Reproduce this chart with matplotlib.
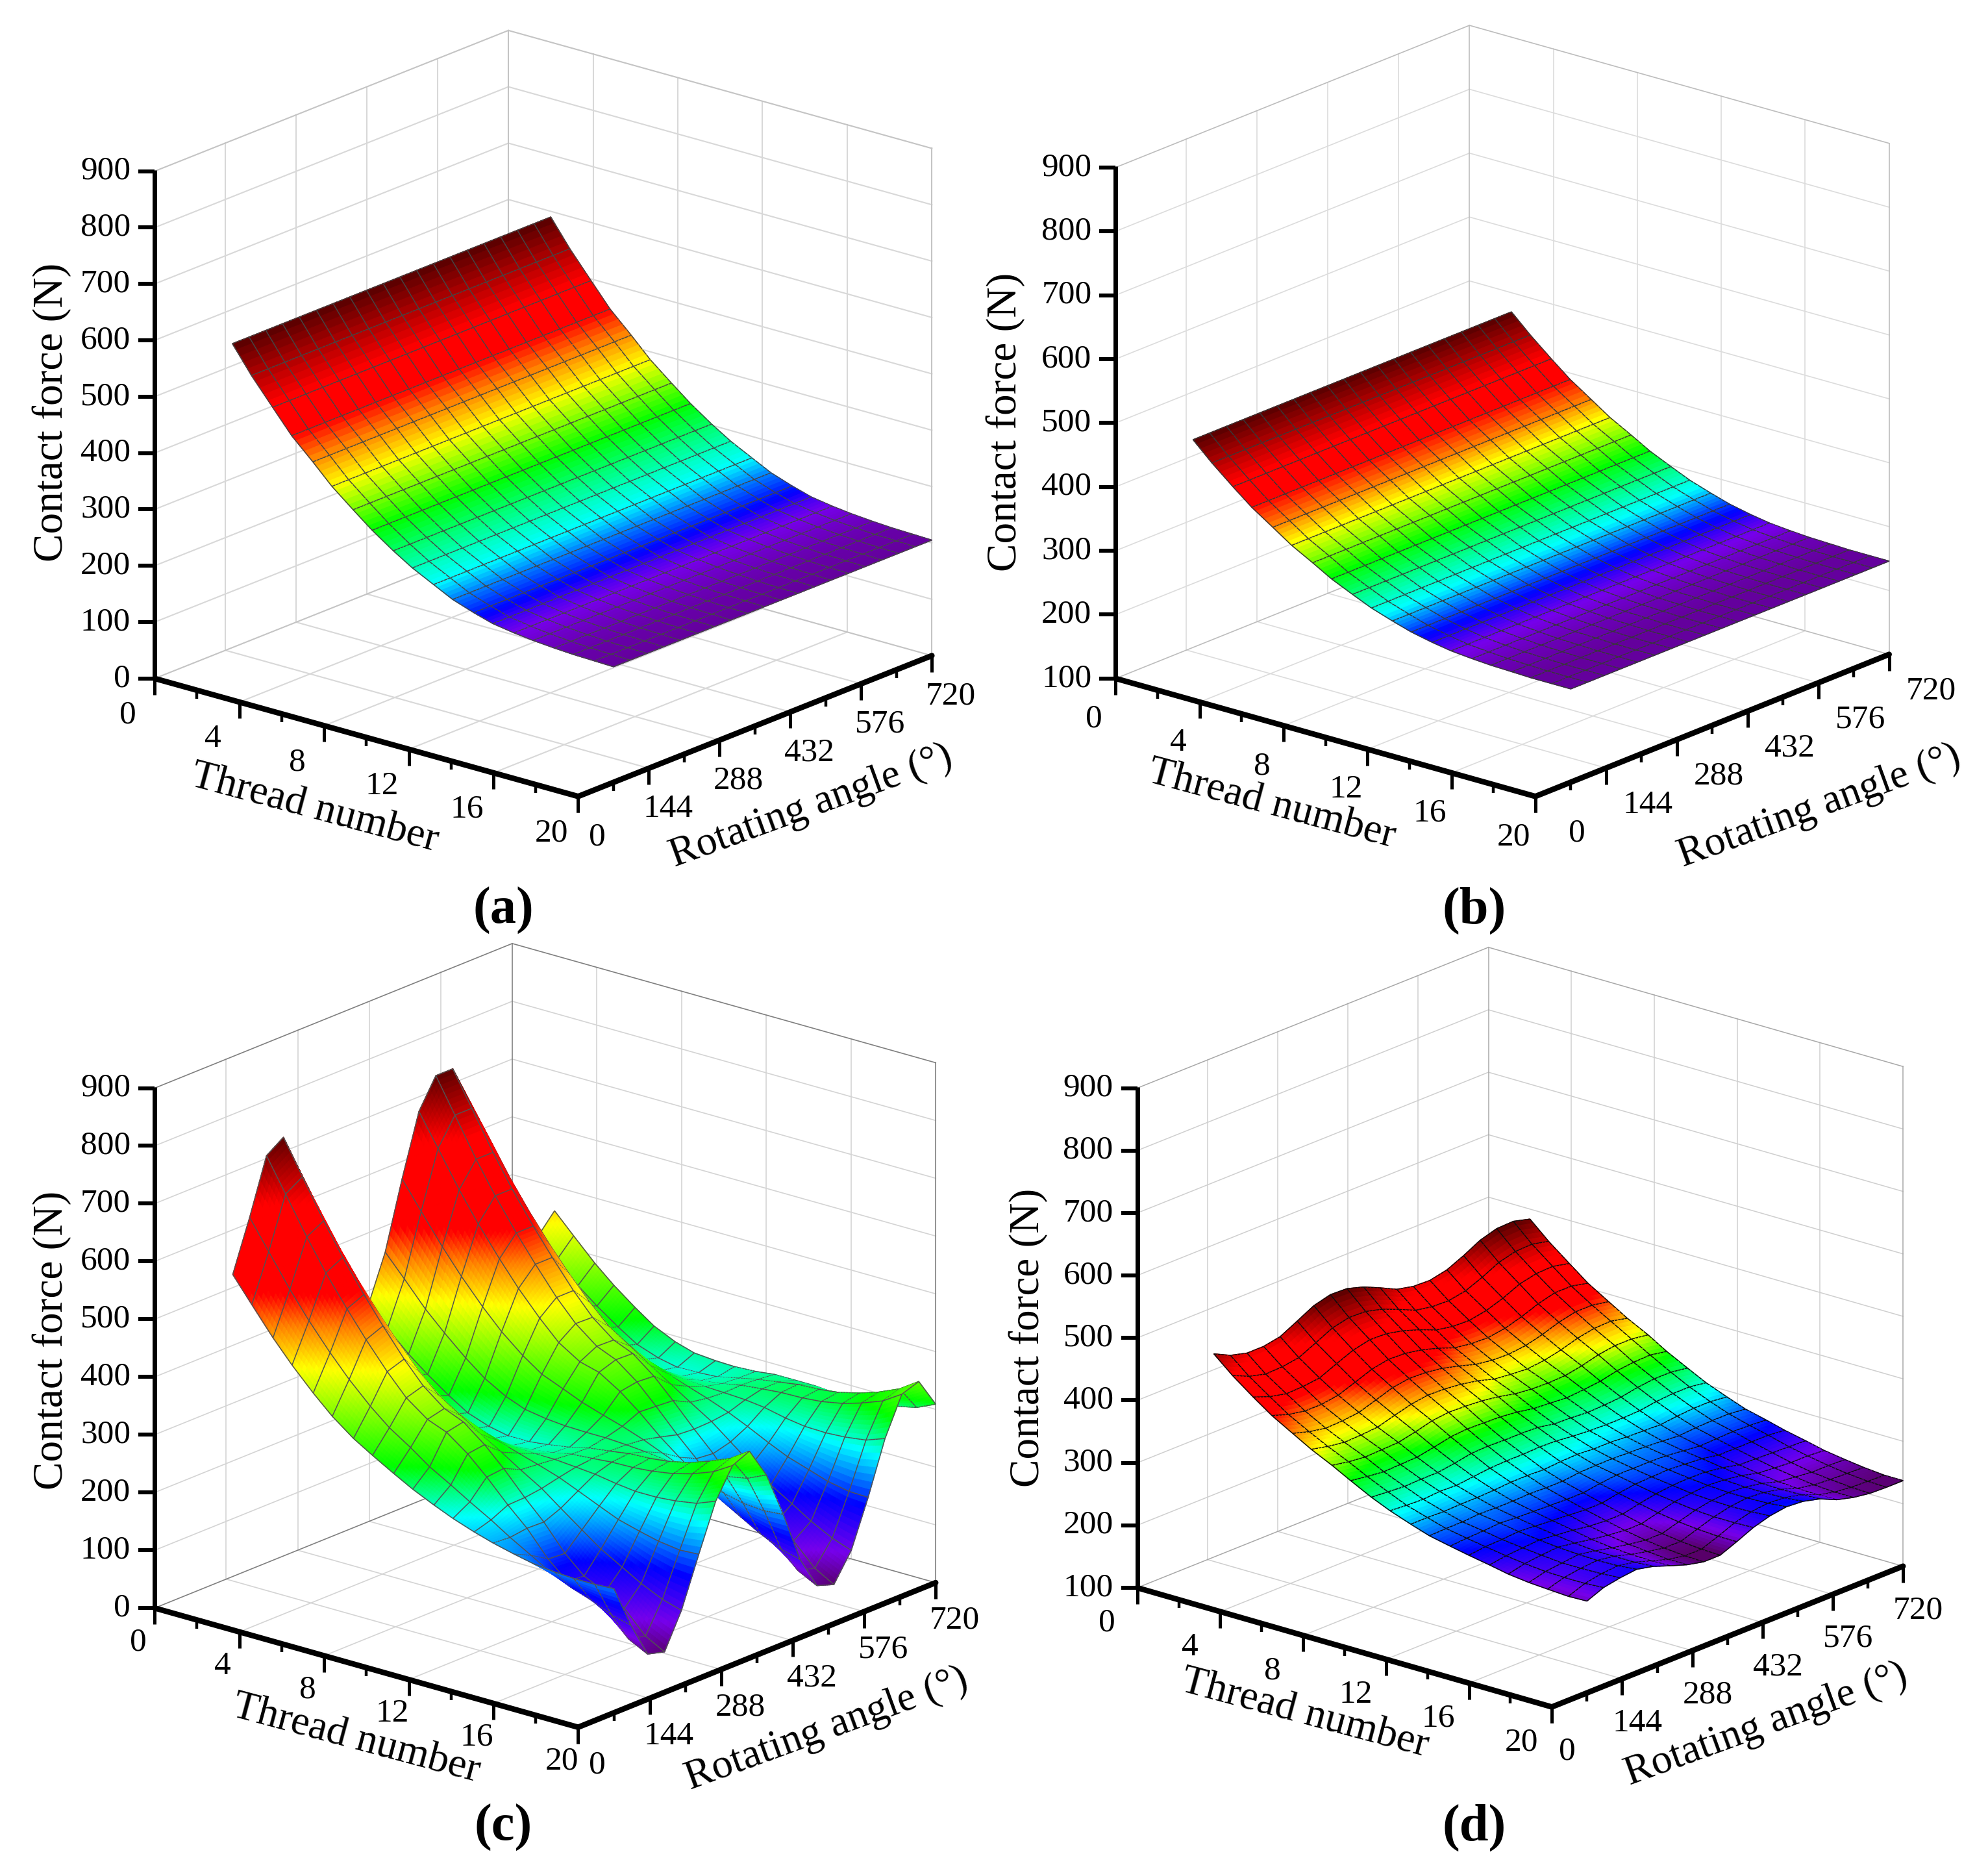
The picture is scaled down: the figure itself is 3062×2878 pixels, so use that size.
import numpy as np
import matplotlib
matplotlib.use("Agg")
import matplotlib.pyplot as plt
from matplotlib.lines import Line2D
from mpl_toolkits.mplot3d import proj3d
from mpl_toolkits.mplot3d.art3d import Poly3DCollection

plt.rcParams['font.family'] = ['Liberation Serif', 'DejaVu Serif']

# ---------------------------- data ----------------------------
thread_numbers = [2.0, 2.9, 3.9, 4.8, 5.8, 6.7, 7.7, 8.6, 9.6, 10.5,
                  11.5, 12.4, 13.4, 14.3, 15.3, 16.2, 17.2, 18.1, 19.1, 20.0]
rotating_angles = [72, 106, 140, 174, 208, 243, 277, 311, 345, 379,
                   413, 447, 481, 515, 550, 584, 618, 652, 686, 720]

force_a_by_thread = [590, 543, 497, 456, 420, 386, 355, 328, 302, 281,
                     262, 245, 232, 222, 216, 212, 209, 207, 206, 205]
force_b_by_thread = [470, 442, 414, 390, 368, 348, 330, 313, 298, 285,
                     274, 265, 258, 253, 250, 248, 247, 246, 246, 246]

force_c = [
    [573, 660, 755, 775, 700, 600, 505, 440, 425, 505, 620, 725, 775, 775, 705, 600, 505, 440, 425, 458],
    [530, 610, 698, 716, 647, 555, 468, 408, 394, 468, 573, 670, 716, 716, 652, 555, 468, 408, 394, 424],
    [483, 555, 634, 650, 588, 505, 426, 372, 360, 426, 522, 609, 650, 650, 592, 505, 426, 372, 360, 387],
    [445, 510, 581, 596, 540, 465, 394, 345, 334, 394, 480, 559, 596, 596, 544, 465, 394, 345, 334, 358],
    [407, 465, 529, 542, 492, 425, 361, 318, 308, 361, 438, 509, 542, 542, 495, 425, 361, 318, 308, 330],
    [376, 428, 485, 497, 452, 392, 335, 296, 287, 335, 404, 467, 497, 497, 455, 392, 335, 296, 287, 307],
    [348, 392, 440, 450, 412, 362, 314, 281, 274, 314, 373, 426, 450, 450, 415, 362, 314, 282, 274, 290],
    [328, 364, 404, 413, 382, 340, 300, 273, 267, 301, 350, 393, 414, 413, 383, 339, 300, 273, 267, 280],
    [307, 340, 377, 384, 359, 326, 294, 272, 267, 295, 335, 370, 385, 384, 360, 324, 294, 273, 268, 277],
    [289, 316, 364, 370, 337, 313, 290, 274, 271, 292, 321, 361, 371, 370, 337, 311, 289, 275, 270, 276],
    [272, 295, 337, 341, 316, 302, 289, 279, 277, 291, 309, 338, 343, 341, 314, 299, 287, 280, 278, 278],
    [258, 275, 306, 309, 295, 292, 289, 286, 285, 291, 299, 312, 310, 308, 293, 288, 286, 287, 285, 282],
    [245, 254, 268, 269, 273, 280, 286, 289, 290, 289, 286, 279, 271, 269, 270, 274, 284, 291, 291, 282],
    [235, 233, 237, 236, 248, 266, 283, 292, 295, 286, 272, 253, 239, 236, 244, 259, 280, 294, 296, 282],
    [226, 212, 194, 192, 221, 250, 277, 293, 297, 281, 256, 226, 195, 191, 215, 241, 272, 295, 298, 279],
    [219, 192, 165, 162, 197, 236, 273, 296, 301, 278, 242, 201, 167, 161, 189, 226, 267, 298, 302, 278],
    [215, 176, 150, 145, 176, 226, 273, 302, 309, 279, 233, 180, 150, 144, 167, 214, 266, 305, 311, 280],
    [213, 165, 132, 126, 157, 218, 276, 311, 321, 283, 225, 161, 132, 124, 146, 203, 268, 315, 322, 286],
    [213, 148, 95, 88, 140, 213, 282, 325, 336, 290, 222, 144, 95, 87, 127, 196, 273, 329, 338, 294],
    [215, 140, 78, 70, 130, 215, 295, 345, 358, 305, 225, 135, 78, 68, 115, 195, 285, 350, 360, 309],
]

force_d = [
    [471, 458, 451, 451, 456, 470, 484, 491, 490, 482, 470, 457, 451, 450, 456, 468, 482, 490, 491, 484],
    [445, 433, 426, 427, 431, 444, 457, 463, 462, 455, 444, 432, 427, 426, 431, 442, 455, 462, 463, 457],
    [420, 410, 404, 405, 408, 420, 431, 437, 436, 430, 421, 410, 405, 404, 409, 418, 430, 436, 437, 431],
    [399, 390, 385, 385, 389, 399, 409, 414, 413, 408, 400, 390, 386, 385, 389, 397, 407, 414, 414, 408],
    [380, 372, 367, 368, 371, 380, 389, 393, 392, 388, 381, 373, 369, 368, 371, 378, 387, 393, 393, 388],
    [363, 357, 353, 354, 356, 364, 371, 375, 374, 371, 366, 358, 355, 353, 356, 362, 370, 375, 376, 370],
    [347, 342, 339, 340, 341, 347, 354, 357, 356, 354, 350, 344, 341, 340, 341, 346, 353, 357, 357, 353],
    [331, 327, 324, 325, 326, 331, 337, 339, 338, 337, 334, 329, 327, 325, 327, 330, 336, 339, 340, 335],
    [314, 312, 310, 311, 311, 315, 320, 321, 320, 320, 319, 314, 313, 311, 312, 314, 319, 322, 322, 318],
    [301, 299, 298, 300, 299, 302, 305, 306, 306, 307, 306, 303, 301, 300, 300, 301, 305, 307, 307, 303],
    [289, 289, 288, 289, 289, 290, 292, 292, 291, 293, 294, 292, 292, 290, 289, 288, 291, 293, 293, 290],
    [279, 280, 280, 282, 281, 281, 282, 281, 281, 284, 285, 285, 284, 283, 281, 279, 281, 282, 282, 279],
    [272, 274, 275, 277, 275, 274, 273, 272, 272, 276, 279, 279, 279, 278, 275, 272, 273, 274, 273, 271],
    [266, 269, 270, 272, 270, 268, 266, 264, 264, 269, 273, 274, 275, 273, 271, 266, 266, 266, 266, 263],
    [260, 264, 266, 268, 265, 262, 258, 256, 256, 262, 267, 270, 271, 270, 266, 260, 259, 258, 257, 256],
    [254, 260, 263, 265, 261, 256, 252, 249, 249, 256, 263, 266, 268, 266, 262, 255, 253, 251, 251, 249],
    [250, 257, 260, 263, 258, 252, 247, 243, 243, 251, 259, 264, 266, 264, 259, 251, 248, 245, 245, 244],
    [248, 256, 260, 262, 258, 250, 244, 239, 239, 248, 257, 263, 266, 264, 258, 249, 244, 242, 241, 240],
    [246, 256, 261, 263, 258, 249, 241, 236, 236, 246, 257, 264, 267, 265, 259, 248, 242, 239, 238, 237],
    [247, 258, 263, 266, 260, 250, 241, 235, 235, 246, 258, 266, 270, 268, 261, 249, 242, 238, 237, 237],
]

thread_ticks = [0, 4, 8, 12, 16, 20]
thread_minor = [2, 6, 10, 14, 18]
angle_ticks = [0, 144, 288, 432, 576, 720]
angle_minor = [72, 216, 360, 504, 648]
panel_names = ['(a)', '(b)', '(c)', '(d)']

# colour ramp: same colours everywhere, per-panel force level of every colour
ramp_colors = np.array([
    (88, 0, 105), (118, 0, 235), (0, 0, 255), (0, 255, 255), (0, 255, 0),
    (255, 255, 0), (255, 128, 0), (255, 0, 0), (255, 0, 0), (85, 0, 0)]) / 255.0
ramp_a = [198, 216, 228, 262, 328, 386, 425, 456, 500, 590]
ramp_b = [242, 252, 261, 279, 315, 350, 369, 391, 417, 470]
ramp_c = [65, 110, 180, 258, 315, 440, 500, 545, 680, 780]
ramp_d = [236, 250, 268, 297, 332, 360, 380, 398, 445, 491]

# ---------------------------- layout (pixels of the 1568-wide view) ----------------------------
W, H = 3062, 2878
K = W / 1568.0

panels = [
    dict(Z=np.tile(np.array(force_a_by_thread)[:, None], (1, 20)), ramp=ramp_a, zmin=0, sub=5,
         O=(122, 535), X=(456, 628), Y=(735, 517), T=(122, 135),
         zt=(41, 325), tt=(248, 638), at=(640, 636), lab=(397, 718),
         toff=(-21, 29), aoff=(15, 32), trot=-15, arot=20,
         mesh=(0.27, 0.27, 0.27), grid='#d8d8d8', glw=1.5, edge='#c4c4c4'),
    dict(Z=np.tile(np.array(force_b_by_thread)[:, None], (1, 20)), ramp=ramp_b, zmin=100, sub=5,
         O=(880, 535), X=(1211, 628), Y=(1490, 516), T=(880, 132),
         zt=(793, 333), tt=(1003, 635), at=(1435, 636), lab=(1163, 718),
         toff=(-17, 32), aoff=(33, 29), trot=-15, arot=20,
         mesh=(0.22, 0.22, 0.22), grid='#dcdcdc', glw=1.2, edge='#bdbdbd'),
    dict(Z=np.array(force_c, float), ramp=ramp_c, zmin=0, sub=8,
         O=(122, 1268), X=(456, 1362), Y=(738, 1248), T=(122, 858),
         zt=(41, 1057), tt=(281, 1372), at=(652, 1364), lab=(397, 1441),
         toff=(-13, 27), aoff=(15, 30), trot=-15, arot=20,
         mesh=(0.32, 0.32, 0.32), grid='#d4d4d4', glw=1.2, edge='#808080'),
    dict(Z=np.array(force_d, float), ramp=ramp_d, zmin=100, sub=5,
         O=(897, 1252), X=(1224, 1346), Y=(1501, 1235), T=(897, 858),
         zt=(811, 1055), tt=(1029, 1352), at=(1393, 1360), lab=(1163, 1441),
         toff=(-24, 28), aoff=(12, 35), trot=-15, arot=20,
         mesh=(0.05, 0.05, 0.05), grid='#cfcfcf', glw=1.1, edge='#a8a8a8'),
]

ZMAX = 900
fig = plt.figure(figsize=(W / 100, H / 100), dpi=100, facecolor='white')


def color_of(values, levels):
    return np.stack([np.interp(values, levels, ramp_colors[:, k]) for k in range(3)]
                    + [np.ones_like(values)], axis=-1)


def setup_axes(p):
    O, X, Y, T = [np.array(p[k], float) * K for k in 'OXYT']
    vx, vy = X - O, Y - X
    vz = O[1] - T[1]
    a_ = vx[1] / vx[0]
    b_ = vy[0] / -vy[1]
    phi = np.arctan(np.sqrt(a_ * b_))
    the = np.arcsin(np.sqrt(a_ / b_))
    box = (vx[0] / np.cos(phi), vy[0] / np.sin(phi), vz / np.cos(the))
    ax = fig.add_axes([0, 0, 1, 1], projection='3d', proj_type='ortho')
    ax.computed_zorder = False
    ax.view_init(elev=np.degrees(the), azim=-90 + np.degrees(phi))
    ax.set_box_aspect(box)
    ax.set_xlim(0, 20, view_margin=0)
    ax.set_ylim(0, 720, view_margin=0)
    ax.set_zlim(p['zmin'], ZMAX, view_margin=0)
    ax.set_axis_off()
    M = ax.get_proj()

    def frac(t, a, z):
        u, v, _ = proj3d.proj_transform(t, a, p['zmin'] if z is None else z, M)
        return ax.transLimits.transform((u, v))

    uO = frac(0, 0, None)
    uY = frac(20, 720, None)
    s = (Y[0] - O[0]) / (uY[0] - uO[0])
    left = O[0] - s * uO[0]
    bottom = (H - O[1]) - s * uO[1]
    ax.set_position([left / W, bottom / H, s / W, s / H])

    def project(t, a, z):
        f = frac(t, a, z)
        return left + s * f[0], H - (bottom + s * f[1])

    return ax, project, box, the, phi


def fig_line(p0, p1, lw, color='black', cap='butt'):
    fig.add_artist(Line2D([p0[0] / W, p1[0] / W], [1 - p0[1] / H, 1 - p1[1] / H],
                          transform=fig.transFigure, lw=lw, color=color,
                          solid_capstyle=cap))


def fig_text(x, y, s, **kw):
    fig.text(x / W, 1 - y / H, s, ha=kw.pop('ha', 'center'), va=kw.pop('va', 'center'),
             color='black', **kw)


def draw_walls(ax, p):
    zmin = p['zmin']
    gk = dict(color=p['grid'], lw=p['glw'], zorder=1, clip_on=False)
    for z in range(zmin + 100, ZMAX, 100):
        ax.plot([0, 0], [0, 720], [z, z], **gk)
        ax.plot([0, 20], [720, 720], [z, z], **gk)
    for a in angle_ticks[1:-1]:
        ax.plot([0, 0], [a, a], [zmin, ZMAX], **gk)
        ax.plot([0, 20], [a, a], [zmin, zmin], **gk)
    for t in thread_ticks[1:-1]:
        ax.plot([t, t], [720, 720], [zmin, ZMAX], **gk)
        ax.plot([t, t], [0, 720], [zmin, zmin], **gk)
    ek = dict(color=p['edge'], lw=p['glw'], zorder=1.1, clip_on=False)
    ax.plot([0, 0], [0, 720], [ZMAX, ZMAX], **ek)
    ax.plot([0, 20], [720, 720], [ZMAX, ZMAX], **ek)
    ax.plot([0, 0], [720, 720], [zmin, ZMAX], **ek)
    ax.plot([20, 20], [720, 720], [zmin, ZMAX], **ek)
    ax.plot([0, 0], [0, 720], [zmin, zmin], **ek)
    ax.plot([0, 20], [720, 720], [zmin, zmin], **ek)


def draw_surface(ax, p, box, the, phi):
    Z = p['Z']
    sub = p['sub']
    tt = np.asarray(thread_numbers, float)
    aa = np.asarray(rotating_angles, float)
    ni, nj = len(tt), len(aa)
    fi = np.linspace(0, ni - 1, (ni - 1) * sub + 1)
    fj = np.linspace(0, nj - 1, (nj - 1) * sub + 1)
    T = np.interp(fi, np.arange(ni), tt)
    A = np.interp(fj, np.arange(nj), aa)
    Zr = np.stack([np.interp(fj, np.arange(nj), row) for row in Z])
    Zf = np.stack([np.interp(fi, np.arange(ni), Zr[:, j]) for j in range(Zr.shape[1])], axis=1)
    TT, AA = np.meshgrid(T, A, indexing='ij')
    P = np.stack([TT, AA, Zf], axis=-1)

    quads = np.stack([P[:-1, :-1], P[1:, :-1], P[1:, 1:], P[:-1, 1:]], axis=2).reshape(-1, 4, 3)
    cols = color_of(quads[:, :, 2].mean(axis=1), p['ramp'])

    # mesh lines, moved slightly towards the viewer so they sort above their own cells
    az = -np.pi / 2 + phi
    cam = np.array([np.cos(the) * np.cos(az), np.cos(the) * np.sin(az), np.sin(the)])
    rng = np.array([20.0, 720.0, ZMAX - p['zmin']])
    shift = 5.0 * cam * rng / np.array(box)
    segs = []
    for i in range(0, P.shape[0], sub):
        for j in range(P.shape[1] - 1):
            segs.append([P[i, j], P[i, j + 1], P[i, j + 1], P[i, j]])
    for j in range(0, P.shape[1], sub):
        for i in range(P.shape[0] - 1):
            segs.append([P[i, j], P[i + 1, j], P[i + 1, j], P[i, j]])
    segs = np.array(segs) + shift

    verts = np.concatenate([quads, segs])
    face = np.concatenate([cols, np.zeros((len(segs), 4))])
    mesh = np.array(list(p['mesh']) + [1.0])
    edge = np.concatenate([cols, np.tile(mesh, (len(segs), 1))])
    coll = Poly3DCollection(verts, facecolors=face, edgecolors=edge, linewidths=1.1,
                            zsort='average', zorder=2)
    coll.set_clip_on(False)
    ax.add_collection3d(coll, autolim=False)


def draw_frame(p, project):
    zmin = p['zmin']
    O_, X_, Y_, T_ = project(0, 0, zmin), project(20, 0, zmin), project(20, 720, zmin), project(0, 0, ZMAX)
    # tick marks
    for z in range(zmin, ZMAX + 1, 100):
        q = project(0, 0, z)
        fig_line((q[0] - 25, q[1]), (q[0], q[1]), 4.4)
        fig_text(q[0] - 37, q[1], str(z), ha='right', fontsize=37)
    for t in thread_ticks:
        q = project(t, 0, zmin)
        fig_line(q, (q[0], q[1] + 25), 3.6)
        fig_text(q[0] + p['toff'][0] * K, q[1] + p['toff'][1] * K, str(t), fontsize=37)
    for t in thread_minor:
        q = project(t, 0, zmin)
        fig_line(q, (q[0], q[1] + 13), 3.2)
    for a in angle_ticks:
        q = project(20, a, zmin)
        fig_line(q, (q[0], q[1] + 25), 3.6)
        fig_text(q[0] + p['aoff'][0] * K, q[1] + p['aoff'][1] * K, str(a), fontsize=37)
    for a in angle_minor:
        q = project(20, a, zmin)
        fig_line(q, (q[0], q[1] + 13), 3.2)
    # thick axes
    fig_line((O_[0], T_[1] - 2), (O_[0], O_[1]), 5.0)
    fig_line(O_, X_, 6.2, cap='round')
    fig_line(X_, Y_, 6.2, cap='round')
    # titles
    fig_text(p['zt'][0] * K, p['zt'][1] * K, 'Contact force (N)', rotation=90, fontsize=47)
    fig_text(p['tt'][0] * K, p['tt'][1] * K, 'Thread number', rotation=p['trot'],
             fontsize=46, rotation_mode='anchor')
    fig_text(p['at'][0] * K, p['at'][1] * K, 'Rotating angle (°)', rotation=p['arot'],
             fontsize=46, rotation_mode='anchor')


for p, name in zip(panels, panel_names):
    ax, project, box, the, phi = setup_axes(p)
    draw_walls(ax, p)
    draw_surface(ax, p, box, the, phi)
    draw_frame(p, project)
    fig_text(p['lab'][0] * K, p['lab'][1] * K, name, fontsize=58, fontweight='bold')

fig.savefig('out.png', dpi=100, facecolor='white')
